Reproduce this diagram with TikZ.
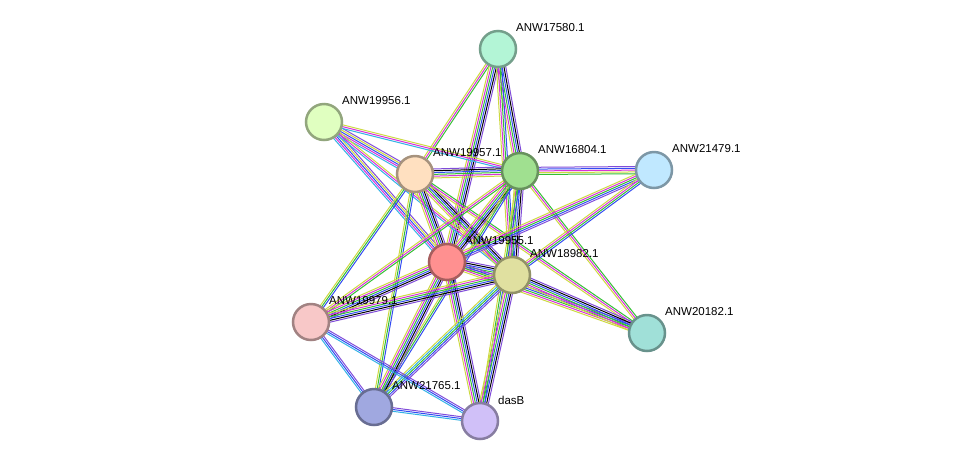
\documentclass[tikz,border=0pt]{standalone}
\usepackage{fontspec}
\setmainfont{Liberation Sans}
\usetikzlibrary{calc,backgrounds}
\definecolor{tm}{rgb}{0.8,0.85,0.25}
\definecolor{ex}{rgb}{0.85,0.2,0.85}
\definecolor{nb}{rgb}{0.2,0.75,0.2}
\definecolor{co}{rgb}{0.2,0.3,0.95}
\definecolor{hm}{rgb}{0.5,0.3,0.85}
\definecolor{db}{rgb}{0.2,0.7,0.9}
\definecolor{ca}{RGB}{179,245,214}
\definecolor{cb}{RGB}{224,255,192}
\definecolor{cc}{RGB}{255,224,192}
\definecolor{cd}{RGB}{160,224,144}
\definecolor{ce}{RGB}{192,232,255}
\definecolor{cf}{RGB}{255,144,144}
\definecolor{cg}{RGB}{224,224,160}
\definecolor{ch}{RGB}{248,200,200}
\definecolor{ci}{RGB}{160,224,216}
\definecolor{cj}{RGB}{160,168,224}
\definecolor{ck}{RGB}{208,192,248}
\newcommand\bund[4]{\foreach \c [count=\i] in #4 {%
  \pgfmathsetmacro\o{(\i-(#3+1)/2)*1.8}
  \draw[\c,line width=1pt] ($(#1)!\o pt!90:(#2)$) -- ($(#2)!\o pt!-90:(#1)$);}}
\tikzset{prot/.style={circle,minimum size=36pt,inner sep=0pt,line width=2.5pt},
 lab/.style={anchor=west,font=\fontsize{11.5}{13}\selectfont,inner sep=0pt}}
\begin{document}
\begin{tikzpicture}[x=1pt,y=-1pt]
\useasboundingbox (0,0) rectangle (975,467);
\def\mk#1#2#3#4{\node[prot,fill=c#1,draw=c#1!65!black] (#1) at (#2,#3) {};
 \node[lab] (l#1) at (#2+18,#3-21) {#4};}
\mk{a}{498}{49}{ANW17580.1}
\mk{b}{324}{122}{ANW19956.1}
\mk{c}{415}{174}{ANW19957.1}
\mk{d}{520}{171}{ANW16804.1}
\mk{e}{654}{170}{ANW21479.1}
\mk{f}{447}{262}{ANW19955.1}
\mk{g}{512}{275}{ANW18982.1}
\mk{h}{311}{322}{ANW19979.1}
\mk{i}{647}{333}{ANW20182.1}
\mk{j}{374}{407}{ANW21765.1}
\mk{k}{480}{421}{dasB}
\begin{pgfonlayer}{background}
\def\six{tm,ex,nb,co,black,hm}
\bund{a}{c}{3}{{tm,ex,nb}}
\bund{a}{d}{6}{\six}
\bund{a}{f}{6}{\six}
\bund{a}{g}{4}{{tm,ex,nb,co}}
\bund{b}{c}{5}{{db,ex,co,tm,hm}}
\bund{b}{d}{3}{{db,ex,tm}}
\bund{b}{f}{5}{{db,ex,co,tm,hm}}
\bund{b}{g}{3}{{db,ex,tm}}
\bund{c}{d}{6}{\six}
\bund{c}{f}{6}{\six}
\bund{c}{g}{6}{\six}
\bund{c}{h}{3}{{tm,nb,co}}
\bund{c}{j}{3}{{tm,nb,co}}
\bund{c}{i}{3}{{tm,ex,nb}}
\bund{d}{e}{5}{{nb,tm,ex,co,hm}}
\bund{d}{f}{6}{\six}
\bund{d}{g}{6}{\six}
\bund{d}{h}{3}{{tm,ex,nb}}
\bund{d}{j}{3}{{tm,nb,co}}
\bund{d}{i}{3}{{tm,ex,nb}}
\bund{d}{k}{3}{{tm,nb,co}}
\bund{e}{f}{5}{{tm,ex,nb,co,hm}}
\bund{e}{g}{4}{{tm,ex,nb,co}}
\bund{f}{g}{6}{\six}
\bund{f}{h}{6}{\six}
\bund{f}{i}{5}{{tm,ex,nb,co,hm}}
\bund{f}{j}{6}{\six}
\bund{f}{k}{6}{\six}
\bund{g}{h}{6}{\six}
\bund{g}{i}{6}{\six}
\bund{g}{j}{5}{{tm,db,nb,co,hm}}
\bund{g}{k}{6}{\six}
\bund{h}{j}{3}{{db,co,hm}}
\bund{h}{k}{3}{{db,co,hm}}
\bund{j}{k}{3}{{db,co,hm}}
\end{pgfonlayer}
\end{tikzpicture}
\end{document}
